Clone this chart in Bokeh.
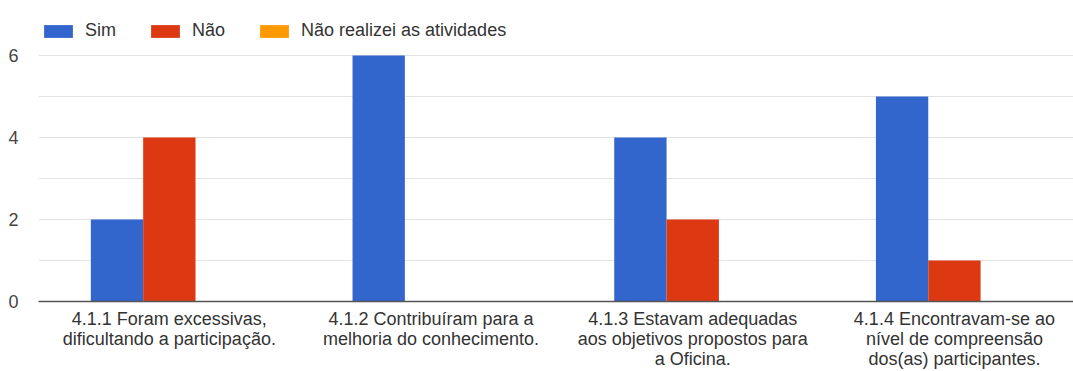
from bokeh.plotting import figure
from bokeh.models import ColumnDataSource, FixedTicker, Range1d, Legend, LegendItem
from bokeh.transform import dodge
from bokeh.embed import file_html
from bokeh.resources import INLINE

# Survey answers per statement
categories = [
    "4.1.1 Foram excessivas,\ndificultando a participação.",
    "4.1.2 Contribuíram para a\nmelhoria do conhecimento.",
    "4.1.3 Estavam adequadas\naos objetivos propostos para\na Oficina.",
    "4.1.4 Encontravam-se ao\nnível de compreensão\ndos(as) participantes.",
]
series_names = ["Sim", "Não", "Não realizei as atividades"]
sim = [2, 6, 4, 5]
nao = [4, 0, 2, 1]
nao_realizei = [0, 0, 0, 0]
y_ticks = [0, 2, 4, 6]

colors = ["#3366CC", "#DC3912", "#FF9900"]
FONT = "Liberation Sans"
FONT_SIZE = "18px"

# Each statement occupies one unit slot, centred at i + 0.5
slot_centers = [i + 0.5 for i in range(len(categories))]
source = ColumnDataSource(data=dict(x=slot_centers, sim=sim, nao=nao, nr=nao_realizei))

p = figure(
    x_range=Range1d(0, 3.955),
    y_range=Range1d(0, 7),
    width=1073, height=371,
    output_backend="svg", toolbar_location=None,
    min_border_left=38, min_border_right=0, min_border_top=14, min_border_bottom=70,
)
p.outline_line_color = None

renderers = []
for field, offset, color in zip(["sim", "nao", "nr"], [-0.2, 0.0, 0.2], colors):
    r = p.vbar(x=dodge("x", offset), top=field, width=0.2,
               source=source, fill_color=color, line_color=None)
    renderers.append(r)

# Grid lines at every unit, labels at every other
p.xgrid.grid_line_color = None
p.ygrid.ticker = FixedTicker(ticks=[1, 2, 3, 4, 5, 6, 7])
p.ygrid.grid_line_color = "#e3e3e3"
p.ygrid.grid_line_width = 1

p.yaxis.ticker = FixedTicker(ticks=y_ticks)
p.yaxis.axis_line_color = None
p.yaxis.major_tick_line_color = None
p.yaxis.minor_tick_line_color = None
p.yaxis.major_label_standoff = 14
p.yaxis.major_label_text_font = FONT
p.yaxis.major_label_text_font_size = FONT_SIZE
p.yaxis.major_label_text_color = "#444444"

p.xaxis.ticker = FixedTicker(ticks=slot_centers)
p.xaxis.major_label_overrides = {c: lbl for c, lbl in zip(slot_centers, categories)}
p.xaxis.axis_line_color = "#555555"
p.xaxis.axis_line_width = 1.5
p.xaxis.major_tick_line_color = None
p.xaxis.minor_tick_line_color = None
p.xaxis.major_label_standoff = 1
p.xaxis.major_label_text_font = FONT
p.xaxis.major_label_text_font_size = FONT_SIZE
p.xaxis.major_label_text_color = "#333333"
p.xaxis.major_label_text_line_height = 1.0

legend = Legend(
    items=[LegendItem(label=n, renderers=[r]) for n, r in zip(series_names, renderers)],
    orientation="horizontal",
    location=(2, 260),
    padding=0, margin=0, spacing=31,
    glyph_width=36, glyph_height=16, label_height=16,
    label_standoff=9,
    label_text_font=FONT, label_text_font_size=FONT_SIZE, label_text_color="#333333",
    background_fill_alpha=0, border_line_color=None,
)
p.add_layout(legend)

open("out.html", "w").write(file_html(p, INLINE))
